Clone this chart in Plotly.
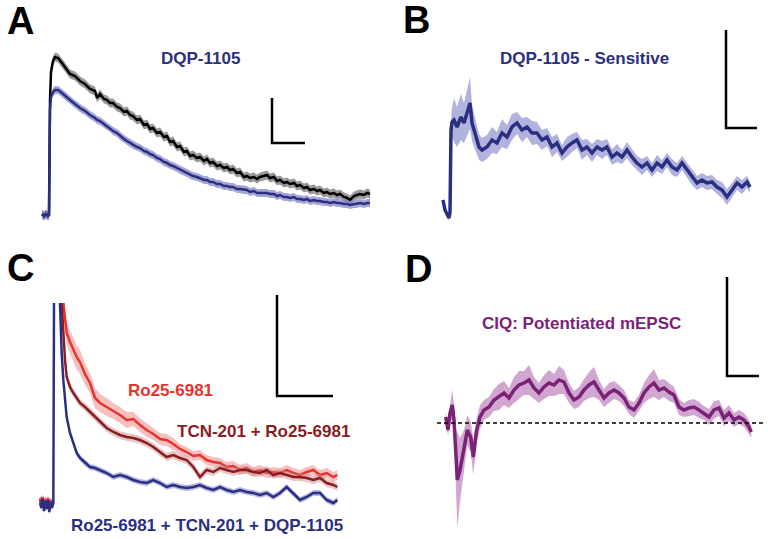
import plotly.graph_objects as go

# ---- Panel A: control (black) vs DQP-1105 (blue) mEPSC, time in ms, amplitude in pA
a_t = [0, 6, 12, 18, 21, 24, 27, 33, 39, 48, 60, 72, 84, 99, 114, 129, 144, 159, 165, 174,
       186, 195, 204, 213, 225, 234, 246, 255, 264, 273, 285, 294, 306, 315, 324, 333, 345, 354, 366, 375,
       384, 393, 405, 414, 426, 435, 444, 453, 465, 474, 486, 495, 504, 513, 525, 534, 546, 555, 564, 573,
       585, 594, 606, 615, 624, 636, 645, 654, 666, 675, 684, 696, 705, 714, 726, 735, 744, 756, 765, 774,
       786, 795, 804, 816, 825, 834, 846, 855, 864, 876, 885, 894, 906, 915, 924, 936, 945, 954, 966, 975, 984]
a_control = [0.1, -0.1, 0.1, -0.1, 0.0,
             11.5, 14.3, 15.4, 15.8, 15.7, 15.2, 14.6, 14.1, 13.9, 13.4, 13.1, 12.6, 12.4, 11.7, 12.1,
             11.6, 11.5, 11.2, 11.2, 10.8, 10.7, 10.3, 10.4, 10.0, 9.9,
             9.5, 9.6, 9.0, 9.1, 8.6, 8.7, 8.2, 8.3, 7.8, 7.9,
             7.3, 7.4, 6.8, 6.9, 6.3, 6.4, 5.9, 6.0, 5.7, 5.8,
             5.4, 5.6, 5.2, 5.3, 4.9, 5.0, 4.7, 4.8, 4.5, 4.6,
             4.2, 4.3, 3.8, 3.9, 3.7, 3.8, 3.6, 3.8, 3.9, 4.0,
             3.7, 3.8, 3.4, 3.5, 3.2, 3.3, 3.1, 3.2, 2.9, 3.0,
             2.7, 2.8, 2.5, 2.6, 2.4, 2.5, 2.2, 2.3, 2.1, 2.2,
             2.0, 2.1, 1.8, 1.7, 1.5, 1.9, 2.0, 2.1, 2.0, 2.2, 2.1]
a_dqp = [0.1, -0.1, 0.1, -0.1, 0.0,
         10.5, 11.8, 12.3, 12.5, 12.5, 12.2, 11.8, 11.5, 11.1, 10.7, 10.4, 10.0, 9.7, 9.5, 9.4,
         9.1, 8.9, 8.7, 8.4, 8.2, 7.9, 7.6, 7.4, 7.2, 7.0,
         6.8, 6.7, 6.4, 6.3, 6.1, 6.0, 5.7, 5.6, 5.3, 5.2,
         5.0, 4.9, 4.7, 4.5, 4.3, 4.2, 4.0, 3.9, 3.8, 3.7,
         3.5, 3.5, 3.3, 3.3, 3.1, 3.1, 2.9, 2.9, 2.8, 2.8,
         2.6, 2.6, 2.5, 2.5, 2.3, 2.4, 2.2, 2.2, 2.2, 2.2,
         2.1, 2.1, 1.9, 2.0, 1.8, 1.8, 1.7, 1.8, 1.6, 1.6,
         1.5, 1.6, 1.4, 1.5, 1.4, 1.4, 1.3, 1.3, 1.2, 1.3,
         1.2, 1.2, 1.1, 1.1, 1.0, 1.1, 1.1, 1.2, 1.1, 1.2, 1.2]
a_control_sem = 0.45
a_dqp_sem = 0.4

# ---- Panel B: DQP-1105 sensitive component
b_t = [0, 6, 12, 18, 21, 24, 27, 33, 42, 54, 63, 72, 81, 87, 99, 108, 117,
       132, 147, 162, 177, 192, 207, 222, 237, 252, 267, 282, 297, 312,
       327, 342, 357, 372, 387, 402, 417, 432, 447, 462, 477, 492, 507, 522, 537, 552, 567,
       582, 597, 612, 627, 642, 657, 672, 687, 702, 717, 732, 747, 762, 777, 792, 807, 822,
       837, 852, 867, 882, 897, 912, 921]
b_amp = [1.7, 0.7, 0.3, -0.1, 0.5, 8.7, 9.5, 9.7, 9.0, 10.0, 9.4, 10.4, 11.4, 9.4, 8.0, 7.0, 6.7,
         7.0, 7.7, 7.4, 8.4, 8.0, 9.0, 9.4, 8.7, 9.0, 8.4, 8.4, 7.7, 8.0,
         7.0, 7.4, 6.4, 7.0, 7.4, 7.7, 6.7, 7.0, 6.4, 7.0, 6.7, 7.0, 6.0, 6.4, 6.0, 6.7, 6.0,
         5.4, 5.0, 5.4, 4.7, 5.4, 5.0, 5.7, 5.0, 4.7, 5.4, 4.7, 4.0, 3.4, 3.7, 3.4, 3.5, 3.0,
         2.7, 2.0, 2.7, 3.4, 3.0, 3.5, 3.0]
b_sem = [0.3, 0.3, 0.3, 0.3, 0.5, 1.0, 1.5, 2.2, 2.0, 2.3, 2.0, 2.4, 2.6, 1.8, 1.5, 1.3, 1.2,
         1.2, 1.3, 1.1, 1.4, 1.2, 1.3, 1.1, 1.2, 1.0, 1.2, 1.1, 1.0, 0.9,
         1.0, 0.9, 0.8, 1.0, 0.9, 0.8, 1.0, 0.8, 0.9, 0.8, 0.9, 0.8, 0.8, 0.9, 0.7, 0.8, 0.8,
         0.7, 0.8, 0.7, 0.7, 0.8, 0.7, 0.7, 0.8, 0.7, 0.7, 0.7, 0.8, 0.7, 0.7, 0.7, 0.7, 0.7,
         0.8, 0.8, 0.7, 0.7, 0.7, 0.6, 0.6]

# ---- Panel C: Ro25-6981 / TCN-201 / DQP-1105 (None = off-scale after stimulus)
c_t = [0, 4, 8, 12, 16, 20, 24, 28, 32, 36, 40, 42, 50, 60, 65, 70, 75, 80, 90, 100, 110, 120,
       135, 150, 165, 180, 200, 220, 240, 260, 280, 300, 320, 340, 360, 380, 400, 420, 440, 460,
       480, 500, 520, 540, 560, 580, 600, 620, 640, 660, 680, 700, 720, 740, 760, 780, 800, 820,
       840, 860, 880, 892]
c_ro = [0.5, 0.1, 0.6, -0.2, 0.4, 0.0, 0.5, -0.1, 0.3, 0.0, 0.2, None, None, None, None,
        20.0, 18.3, 17.0, 16.1, 15.3, 14.6, 14.1, 12.9, 12.0, 10.5, 10.0,
        9.6, 9.2, 8.8, 8.3, 8.4, 7.8, 7.3, 6.9, 6.4, 6.3, 5.9, 5.4, 5.1, 4.7, 4.8, 4.3, 4.1, 4.0,
        3.6, 3.7, 3.3, 3.5, 3.1, 3.3, 3.0, 3.1, 3.0, 3.3, 3.0, 2.8, 3.1, 3.3, 2.8, 3.0, 2.6, 2.8]
c_tcn_ro = [0.3, -0.1, 0.4, -0.3, 0.2, -0.2, 0.3, -0.3, 0.1, -0.2, 0.1, None, None, None,
            20.0, 16.6, 14.3, 12.6, 11.6, 11.0, 10.5, 10.0, 9.6, 9.1, 8.6, 8.1,
            7.5, 7.1, 6.8, 6.6, 6.5, 6.3, 6.0, 5.6, 5.1, 4.6, 4.8, 4.5, 4.3, 3.6, 2.6, 3.3, 3.1, 3.5,
            3.3, 3.1, 3.3, 3.3, 3.1, 3.0, 3.3, 2.8, 3.0, 2.8, 2.6, 2.6, 2.5, 2.3, 2.5, 2.0, 1.8, 1.6]
c_all = [0.0, -0.5, 0.4, -0.8, 0.2, -0.6, 0.3, -0.9, 0.1, -0.5, 0.0, 20.0, None, 20.0,
         15.0, 12.3, 10.0, 8.6, 7.0, 6.0, 5.0, 4.5, 4.0, 3.6, 3.5, 3.3,
         3.0, 2.6, 2.8, 2.6, 2.3, 2.1, 2.0, 2.3, 2.0, 1.6, 1.8, 1.6, 1.5, 1.6, 1.8, 1.5, 1.3, 1.6,
         1.3, 1.1, 1.3, 1.1, 1.0, 0.8, 1.0, 0.6, 1.0, 1.6, 1.0, 0.3, 0.6, 1.0, 1.0, 0.3, 0.0, 0.3]
c_ro_sem = [0.3, 0.3, 0.3, 0.3, 0.3, 0.3, 0.3, 0.3, 0.3, 0.3, 0.3, 0, 0, 0, 0,
            0.6, 0.9, 1.1, 1.2, 1.2, 1.2, 1.2, 1.1, 1.0, 1.0, 0.9,
            0.9, 0.8, 0.8, 0.8, 0.7, 0.7, 0.7, 0.6, 0.6, 0.6, 0.6, 0.5, 0.5, 0.5, 0.5, 0.5, 0.5, 0.5,
            0.5, 0.5, 0.5, 0.5, 0.5, 0.5, 0.5, 0.5, 0.5, 0.5, 0.5, 0.5, 0.5, 0.5, 0.5, 0.5, 0.5, 0.5]
c_tcn_ro_sem = 0.4
c_all_sem = 0.3
c_clip = 20.0

# ---- Panel D: CIQ potentiated mEPSC (difference trace)
d_t = [2, 9, 15, 22, 27, 32, 37, 45, 57, 67, 77, 85, 95, 105, 117,
       132, 147, 162, 177, 192, 207, 222, 237, 252, 267, 282, 297, 312, 327, 342, 357, 372, 387,
       402, 417, 432, 447, 462, 477, 492, 507, 522, 537, 552, 567, 582, 597, 612, 627, 642, 657,
       672, 687, 702, 717, 732, 747, 762, 777, 792, 807, 822, 837, 852, 867, 882, 897, 912, 919]
d_amp = [0.6, -0.7, 1.0, 1.8, 0.3, -3.4, -5.7, -4.7, -2.7, -0.7, -1.4, -3.4, -0.7, 0.6, 1.3,
         1.6, 2.3, 2.6, 3.0, 2.5, 3.3, 3.8, 4.0, 4.3, 3.5, 3.0, 3.6, 4.0, 3.8, 4.3, 4.1, 3.0, 2.3,
         2.6, 3.3, 3.8, 4.1, 3.3, 2.5, 3.0, 3.3, 3.0, 2.5, 1.6, 1.3, 2.0, 3.0, 3.6, 4.0, 3.3, 3.5,
         3.1, 2.8, 1.6, 1.3, 1.5, 1.6, 1.3, 1.0, 0.6, 1.3, 1.5, 0.5, 1.0, 0.3, 0.6, 0.3, -0.4, -0.9]
d_sem = [0.5, 0.6, 0.8, 1.5, 1.5, 2.8, 4.8, 3.2, 2.0, 1.5, 1.5, 1.8, 1.2, 1.2, 1.0,
         1.0, 1.1, 1.3, 1.2, 1.0, 1.3, 1.4, 1.2, 1.5, 1.1, 1.0, 1.2, 1.3, 1.1, 1.4, 1.2, 1.0, 0.9,
         1.0, 1.1, 1.3, 1.5, 1.0, 0.9, 1.0, 0.9, 0.8, 0.8, 0.7, 0.8, 0.8, 1.0, 1.2, 1.4, 1.0, 0.9,
         0.9, 0.8, 0.8, 0.7, 0.8, 0.8, 0.8, 0.7, 0.8, 0.9, 0.8, 0.8, 0.8, 0.7, 0.7, 0.7, 0.7, 0.6]

# scale bars: (time ms, amplitude pA) origin and lengths, per panel
scale_bars = {
    "A": (690, 7.2, 99, 4.5),
    "B": (849, 8.9, 93, 9.8),
    "C": (711, 10.7, 168, 10.1),
    "D": (846, 4.7, 96, 9.9),
}

NAVY = "#2b2f80"
FONT = "Liberation Sans, Arial, sans-serif"

fig = go.Figure()


def add_trace(ax, t, y, sem, color, band, width, top=None):
    if not isinstance(sem, list):
        sem = [sem] * len(t)
    assert len(t) == len(y) == len(sem), (len(t), len(y), len(sem))
    # shaded SEM band, one polygon per contiguous run of values
    seg = []
    runs = []
    for ti, yi, si in zip(t, y, sem):
        if yi is None:
            if seg:
                runs.append(seg)
            seg = []
        else:
            seg.append((ti, yi, si))
    if seg:
        runs.append(seg)
    for run in runs:
        if len(run) < 2:
            continue
        up = [r[1] + r[2] for r in run]
        lo = [r[1] - r[2] for r in run]
        if top is not None:
            up = [min(u, top) for u in up]
        xs = [r[0] for r in run]
        fig.add_scatter(x=xs + xs[::-1], y=up + lo[::-1], fill="toself", fillcolor=band,
                        line=dict(width=0), mode="lines", hoverinfo="skip",
                        xaxis="x" + ax, yaxis="y" + ax, showlegend=False)
    fig.add_scatter(x=t, y=y, mode="lines", line=dict(color=color, width=width),
                    xaxis="x" + ax, yaxis="y" + ax, showlegend=False)


add_trace("", a_t, a_control, a_control_sem, "#000000", "rgba(120,120,120,0.75)", 2.5)
add_trace("", a_t, a_dqp, a_dqp_sem, NAVY, "rgba(125,128,200,0.7)", 2.5)
add_trace("2", b_t, b_amp, b_sem, NAVY, "rgba(125,128,200,0.6)", 3.5)
add_trace("3", c_t, c_ro, c_ro_sem, "#e8332e", "rgba(240,150,150,0.6)", 2.5, top=c_clip)
add_trace("3", c_t, c_tcn_ro, c_tcn_ro_sem, "#8c1c1f", "rgba(200,130,130,0.45)", 2.5, top=c_clip)
add_trace("3", c_t, c_all, c_all_sem, NAVY, "rgba(125,128,200,0.55)", 2.5, top=c_clip)
add_trace("4", d_t, d_amp, d_sem, "#7b2277", "rgba(190,130,190,0.7)", 3.5)

# panel axes: quadrants of the 768x539 page
H = 539.0
ysplit = 1 - 270 / H
axes = {
    "": ([0, 0.5], [ysplit, 1], [-126, 1026], [-5.5, 21.5]),
    "2": ([0.5, 1], [ysplit, 1], [-177, 975], [-5.3, 21.7]),
    "3": ([0, 0.5], [0, ysplit], [-120, 1032], [-3.6, 23.3]),
    "4": ([0.5, 1], [0, ysplit], [-183, 969], [-11.6, 15.3]),
}
layout_axes = {}
for k, (xd, yd, xr, yr) in axes.items():
    layout_axes["xaxis" + k] = dict(domain=xd, range=xr, visible=False, anchor="y" + k, fixedrange=True)
    layout_axes["yaxis" + k] = dict(domain=yd, range=yr, visible=False, anchor="x" + k, fixedrange=True)

shapes = []
for k, panel in zip(["", "2", "3", "4"], "ABCD"):
    x0, y0, dx, dy = scale_bars[panel]
    shapes.append(dict(type="path", xref="x" + k, yref="y" + k,
                       path=f"M {x0},{y0 + dy} L {x0},{y0} L {x0 + dx},{y0}",
                       line=dict(color="black", width=2.5)))
# zero line under the CIQ trace
shapes.append(dict(type="line", xref="x4", yref="y4", x0=-24, x1=957, y0=0, y1=0,
                   line=dict(color="black", width=1.5, dash="4px,3px"), layer="above"))

annotations = []
for letter, (px, py) in {"A": (20, 21), "B": (416, 20), "C": (20, 268), "D": (418, 269)}.items():
    annotations.append(dict(text=f"<b>{letter}</b>", x=px / 768, y=1 - py / H, xref="paper",
                            yref="paper", xanchor="center", yanchor="middle", showarrow=False,
                            font=dict(size=38, color="black", family=FONT)))

labels = [
    ("", "DQP-1105", 474, 15.7, NAVY),
    ("2", "DQP-1105 - Sensitive", 423, 15.9, NAVY),
    ("3", "Ro25-6981", 390, 11.3, "#e8332e"),
    ("3", "TCN-201 + Ro25-6981", 669, 7.2, "#8c1c1f"),
    ("3", "Ro25-6981 + TCN-201 + DQP-1105", 501, -2.2, NAVY),
    ("4", "CIQ: Potentiated mEPSC", 408, 10.0, "#7b2277"),
]
for k, txt, x, y, col in labels:
    annotations.append(dict(text=f"<b>{txt}</b>", x=x, y=y, xref="x" + k, yref="y" + k,
                            xanchor="center", yanchor="middle", showarrow=False,
                            font=dict(size=17, color=col, family=FONT)))

fig.update_layout(width=768, height=539, margin=dict(l=0, r=0, t=0, b=0),
                  paper_bgcolor="white", plot_bgcolor="white", hovermode=False,
                  shapes=shapes, annotations=annotations, **layout_axes)

# page body has a default 8px margin; drop it so the figure fills the window
fig.write_html("out.html", config={"displayModeBar": False},
               post_script="document.body.style.margin='0';")
